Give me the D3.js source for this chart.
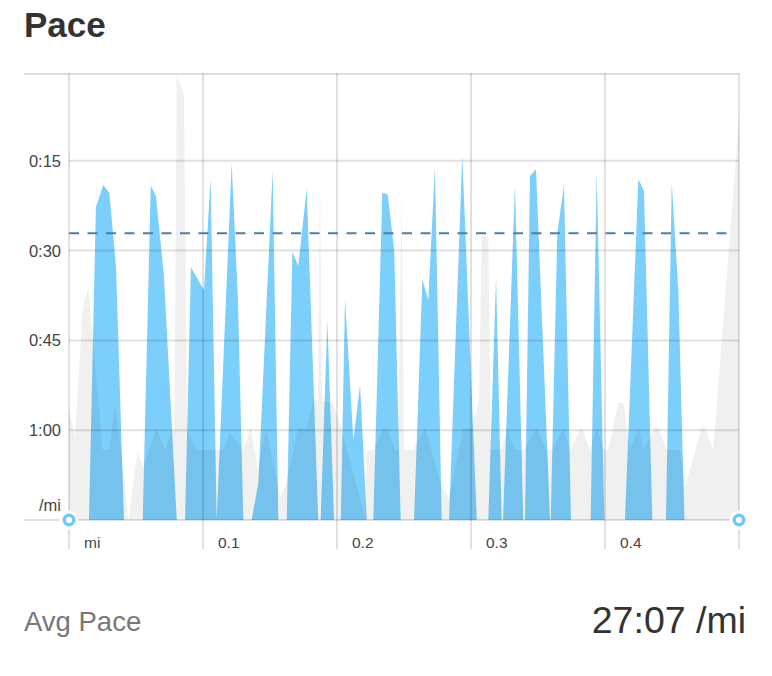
<!DOCTYPE html>
<html>
<head>
<meta charset="utf-8">
<script src="https://cdn.jsdelivr.net/npm/d3@7/dist/d3.min.js"></script>
<style>
  html, body { margin: 0; padding: 0; background: #fff; }
  svg { display: block; font-family: "Liberation Sans", Helvetica, Arial, sans-serif; }
</style>
</head>
<body>
<svg id="chart" width="772" height="676"></svg>
<script>
// ---- data (distance in miles, pace in minutes per mile) ----
const blueDist = [0, 0.0149, 0.0201, 0.0256, 0.0301, 0.0351, 0.0410,
  0.0550, 0.0610, 0.0649, 0.0709, 0.0804,
  0.0866, 0.0910, 0.1007, 0.1057, 0.1102,
  0.1214, 0.1261, 0.1301,
  0.1363, 0.1413, 0.1520, 0.1562,
  0.1625, 0.1667, 0.1711, 0.1774, 0.1860,
  0.1878, 0.1928, 0.1978,
  0.2028, 0.2060, 0.2122, 0.2172, 0.2222,
  0.2271, 0.2338, 0.2378, 0.2427, 0.2475,
  0.2575, 0.2637, 0.2681, 0.2731, 0.2781,
  0.2836, 0.2935, 0.3043,
  0.3129, 0.3187, 0.3229,
  0.3239, 0.3328, 0.3390,
  0.3403, 0.3440, 0.3485, 0.3590,
  0.3595, 0.3644, 0.3694, 0.3746,
  0.3893, 0.3938, 0.3995,
  0.4149, 0.4249, 0.4291, 0.4353,
  0.4455, 0.4498, 0.4547, 0.4593,
  0.5];
const bluePace = [75, 75, 22.67, 19.04, 20.33, 32.69, 75,
  75, 19.21, 20.88, 34.36, 75,
  75, 32.79, 36.58, 17.92, 75,
  15.37, 38.25, 75,
  75, 68.82, 16.54, 75,
  75, 30.18, 32.57, 19.59, 75,
  75, 41.59, 75,
  75, 37.97, 61.63, 52.45, 75,
  75, 20.33, 20.59, 29.90, 75,
  75, 34.79, 38.25, 15.98, 75,
  75, 14.03, 75,
  75, 34.36, 75,
  75, 19.04, 75,
  75, 17.54, 16.42, 75,
  75, 27.11, 19.04, 75,
  75, 16.82, 75,
  75, 18.09, 19.99, 75,
  75, 18.66, 36.58, 75,
  75];

const grayDist = [0, 0.0045, 0.0102, 0.0144, 0.0251, 0.0301, 0.0343, 0.0410, 0.0443,
  0.0510, 0.0554, 0.0654, 0.0716, 0.0766, 0.0787, 0.0804, 0.0858, 0.0881, 0.0953,
  0.1151, 0.1201, 0.1301, 0.1356, 0.1410, 0.1470, 0.1562, 0.1582, 0.1625, 0.1711,
  0.1774, 0.1823, 0.1858, 0.1873, 0.1888, 0.1948, 0.1970, 0.2035, 0.2209, 0.2222,
  0.2271, 0.2346, 0.2381, 0.2433, 0.2455, 0.2483, 0.2500, 0.2569, 0.2657, 0.2781,
  0.2836, 0.2943, 0.3005, 0.3060, 0.3080, 0.3129, 0.3149, 0.3229, 0.3269, 0.3328,
  0.3388, 0.3490, 0.3565, 0.3604, 0.3689, 0.3739, 0.3826, 0.3888, 0.3938, 0.3995,
  0.4025, 0.4099, 0.4137, 0.4187, 0.4249, 0.4291, 0.4373, 0.4398, 0.4461, 0.4560,
  0.4597, 0.4722, 0.4746, 0.4808, 0.5];
const grayPace = [56.62, 61.13, 39.59, 35.91, 63.30, 63.30, 55.45, 67.48, 75,
  63.64, 66.14, 59.63, 63.30, 59.96, 59.96, 0.67, 4.01, 59.96, 63.30,
  63.30, 60.46, 63.30, 59.63, 66.64, 59.63, 69.48, 71.15, 68.32, 59.63,
  59.63, 54.95, 54.95, 16.03, 54.95, 55.45, 55.45, 59.96, 74.50, 63.30,
  63.30, 59.63, 59.96, 63.30, 63.30, 19.88, 63.30, 63.30, 59.63, 69.48,
  71.32, 59.63, 59.63, 54.95, 27.73, 27.73, 63.30, 63.30, 59.63, 63.30,
  63.30, 59.63, 63.30, 63.30, 59.63, 63.30, 59.46, 63.30, 59.63, 63.30,
  63.30, 55.45, 55.45, 63.30, 59.63, 63.30, 59.46, 59.63, 63.30, 63.30,
  69.48, 59.46, 59.63, 63.30, 7.85];

const avgPace = 27.117;           // 27:07 /mi
const yTicks = [15, 30, 45, 60];
const yTickLabels = ["0:15", "0:30", "0:45", "1:00"];
const xTicks = [0, 0.1, 0.2, 0.3, 0.4, 0.5];
const xTickLabels = ["mi", "0.1", "0.2", "0.3", "0.4", ""];
const title = "Pace";
const avgLabel = "Avg Pace";
const avgValueLabel = "27:07 /mi";

// ---- drawing ----
const svg = d3.select("#chart");
const x = d3.scaleLinear().domain([0, 0.5]).range([69, 739]);
const y = d3.scaleLinear().domain([0.5, 75]).range([74, 520]).clamp(true);

const blueData = blueDist.map((d, i) => [d, bluePace[i]]);
const grayData = grayDist.map((d, i) => [d, grayPace[i]]);

const area = d3.area().x(d => x(d[0])).y0(y(75)).y1(d => y(d[1]));

svg.append("path").datum(blueData).attr("d", area).attr("fill", "#7dcffb");
svg.append("path").datum(grayData).attr("d", area).attr("fill", "rgba(0,0,0,0.06)");

const gridColor = "rgba(0,0,0,0.12)";
// horizontal grid
svg.append("line").attr("x1", 24).attr("x2", x(0.5)).attr("y1", y(0.5)).attr("y2", y(0.5))
  .attr("stroke", gridColor).attr("stroke-width", 2);
svg.append("line").attr("x1", 24).attr("x2", x(0.5)).attr("y1", y(75)).attr("y2", y(75))
  .attr("stroke", gridColor).attr("stroke-width", 2);
svg.selectAll(".hg").data(yTicks).enter().append("line")
  .attr("x1", x(0)).attr("x2", x(0.5)).attr("y1", d => y(d)).attr("y2", d => y(d))
  .attr("stroke", gridColor).attr("stroke-width", 2);
// vertical grid
svg.selectAll(".vg").data(xTicks).enter().append("line")
  .attr("x1", d => x(d)).attr("x2", d => x(d)).attr("y1", y(0.5) - 1).attr("y2", 549)
  .attr("stroke", gridColor).attr("stroke-width", 2);

// avg line
svg.append("line").attr("x1", x(0)).attr("x2", 735).attr("y1", y(avgPace)).attr("y2", y(avgPace))
  .attr("stroke", "#4d7fa3").attr("stroke-width", 2).attr("stroke-dasharray", "10,8.5");

// y labels
svg.selectAll(".yl").data(yTicks).enter().append("text")
  .attr("x", 61).attr("y", d => y(d)).attr("dy", "0.36em")
  .attr("text-anchor", "end").attr("font-size", 16.5).attr("fill", "#444")
  .text((d, i) => yTickLabels[i]);
svg.append("text").attr("x", 61).attr("y", 511).attr("text-anchor", "end")
  .attr("font-size", 16.5).attr("fill", "#444").text("/mi");

// x labels
svg.selectAll(".xl").data(xTicks).enter().append("text")
  .attr("x", d => x(d) + 15).attr("y", 548)
  .attr("font-size", 15.5).attr("fill", "#444")
  .text((d, i) => xTickLabels[i]);

// end markers
[0, 0.5].forEach(d => {
  svg.append("circle").attr("cx", x(d)).attr("cy", y(75)).attr("r", 8)
    .attr("fill", "#72c8f7").attr("stroke", "#fff").attr("stroke-width", 3);
  svg.append("circle").attr("cx", x(d)).attr("cy", y(75)).attr("r", 3).attr("fill", "#fff");
});

// title & summary
svg.append("text").attr("x", 24).attr("y", 37).attr("font-size", 35).attr("font-weight", "bold")
  .attr("fill", "#333").text(title);
svg.append("text").attr("x", 24).attr("y", 631).attr("font-size", 27.5).attr("fill", "#777")
  .text(avgLabel);
svg.append("text").attr("x", 746).attr("y", 633).attr("text-anchor", "end")
  .attr("font-size", 37.5).attr("font-weight", 300).attr("fill", "#333").text(avgValueLabel);
</script>
</body>
</html>
